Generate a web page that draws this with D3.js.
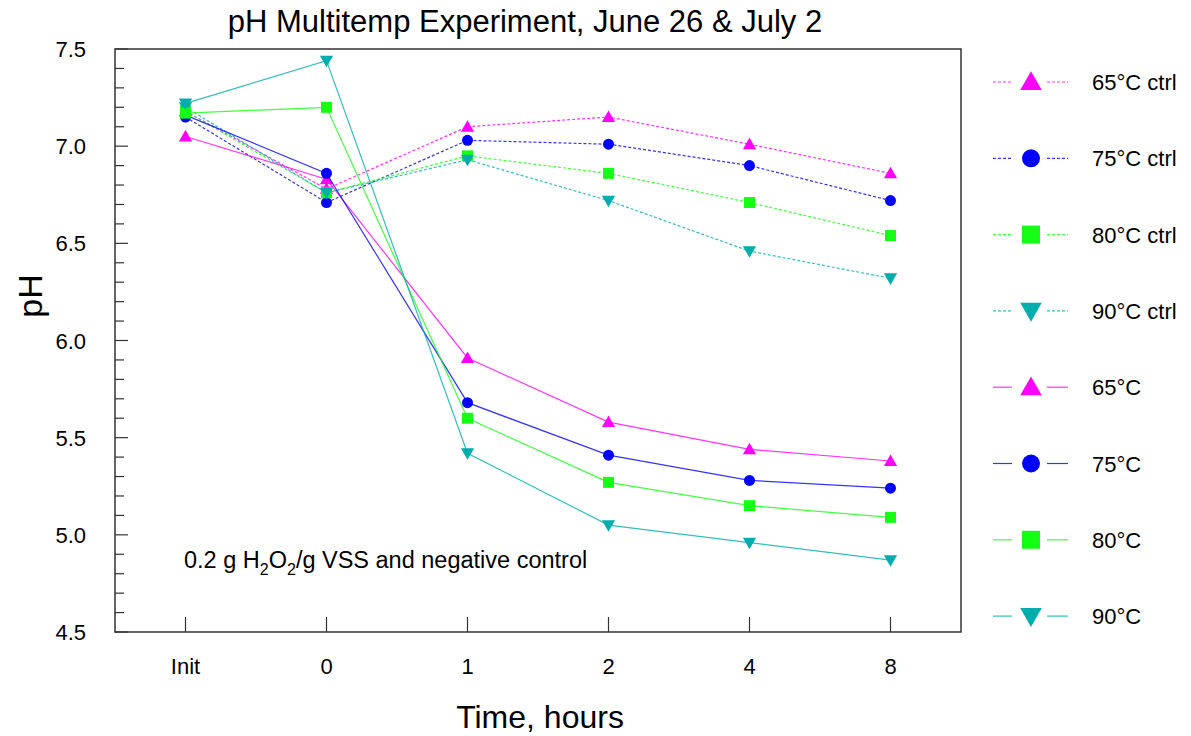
<!DOCTYPE html>
<html>
<head>
<meta charset="utf-8">
<script src="https://cdn.jsdelivr.net/npm/d3@7"></script>
<style>
  body { margin: 0; background: #fff; }
  text { font-family: "Liberation Sans", Arial, sans-serif; fill: #000; }
</style>
</head>
<body>
<svg id="chart" width="1191" height="736"></svg>
<script>
// x categories
var times = ["Init", "0", "1", "2", "4", "8"];

// pH readings
var ctrl65 = [7.18, 6.78, 7.10, 7.15, 7.01, 6.86];
var ctrl75 = [7.15, 6.71, 7.03, 7.01, 6.90, 6.72];
var ctrl80 = [7.18, 6.76, 6.95, 6.86, 6.71, 6.54];
var ctrl90 = [7.20, 6.76, 6.93, 6.72, 6.46, 6.32];
var t65 = [7.05, 6.83, 5.91, 5.58, 5.44, 5.38];
var t75 = [7.16, 6.86, 5.68, 5.41, 5.28, 5.24];
var t80 = [7.17, 7.20, 5.60, 5.27, 5.15, 5.09];
var t90 = [7.22, 7.44, 5.42, 5.05, 4.96, 4.87];

var yTicks = [4.5, 5.0, 5.5, 6.0, 6.5, 7.0, 7.5];

var series = [
    {name: "65\u00B0C ctrl", values: ctrl65, color: "#ff00ff", shape: "up", dashed: true},
    {name: "75\u00B0C ctrl", values: ctrl75, color: "#0000ff", shape: "circle", dashed: true},
    {name: "80\u00B0C ctrl", values: ctrl80, color: "#14ff14", shape: "square", dashed: true},
    {name: "90\u00B0C ctrl", values: ctrl90, color: "#00adad", shape: "down", dashed: true},
    {name: "65\u00B0C", values: t65, color: "#ff00ff", shape: "up", dashed: false},
    {name: "75\u00B0C", values: t75, color: "#0000ff", shape: "circle", dashed: false},
    {name: "80\u00B0C", values: t80, color: "#14ff14", shape: "square", dashed: false},
    {name: "90\u00B0C", values: t90, color: "#00adad", shape: "down", dashed: false}
];

var svg = d3.select("#chart");
var plotL = 115, plotR = 961, plotT = 49, plotB = 632;

var x = d3.scalePoint().domain(times).range([plotL, plotR]).padding(0.5);
var y = d3.scaleLinear().domain([4.5, 7.5]).range([plotB, plotT]);

function marker(sel, shape, size) {
    var s = size;
    if (shape === "circle") {
        sel.append("circle").attr("r", s * 0.5);
    } else if (shape === "square") {
        sel.append("rect").attr("x", -s / 2).attr("y", -s / 2).attr("width", s).attr("height", s);
    } else if (shape === "up") {
        sel.append("path").attr("d", "M0," + (-s * 0.6) + "L" + (s * 0.6) + "," + (s * 0.45) + "L" + (-s * 0.6) + "," + (s * 0.45) + "Z");
    } else {
        sel.append("path").attr("d", "M0," + (s * 0.6) + "L" + (s * 0.6) + "," + (-s * 0.45) + "L" + (-s * 0.6) + "," + (-s * 0.45) + "Z");
    }
}

// title
svg.append("text").attr("x", 525).attr("y", 32).attr("text-anchor", "middle")
    .style("font-size", "31px").text("pH Multitemp Experiment, June 26 & July 2");

// frame
svg.append("rect").attr("x", plotL).attr("y", plotT).attr("width", plotR - plotL).attr("height", plotB - plotT)
    .attr("fill", "none").attr("stroke", "#333").attr("stroke-width", 1.5);

// y ticks (inside), minor every 0.1
var minor = d3.range(45, 76).map(function (d) { return d / 10; });
svg.selectAll(".ytick").data(minor).enter().append("line")
    .attr("x1", plotL).attr("x2", function (d) { return Math.round(d * 10) % 5 === 0 ? plotL + 13 : plotL + 9; })
    .attr("y1", function (d) { return y(d); }).attr("y2", function (d) { return y(d); })
    .attr("stroke", "#333").attr("stroke-width", 1.2);

svg.selectAll(".ylab").data(yTicks).enter().append("text")
    .attr("x", 86).attr("y", function (d) { return y(d) + 8; })
    .attr("text-anchor", "end").style("font-size", "22px")
    .text(function (d) { return d.toFixed(1); });

// x ticks (inside)
svg.selectAll(".xtick").data(times).enter().append("line")
    .attr("x1", function (d) { return x(d); }).attr("x2", function (d) { return x(d); })
    .attr("y1", plotB).attr("y2", plotB - 15)
    .attr("stroke", "#333").attr("stroke-width", 1.2);

svg.selectAll(".xlab").data(times).enter().append("text")
    .attr("x", function (d) { return x(d); }).attr("y", 674)
    .attr("text-anchor", "middle").style("font-size", "22px")
    .text(function (d) { return d; });

// axis titles
svg.append("text").attr("x", 540).attr("y", 728).attr("text-anchor", "middle")
    .style("font-size", "32px").text("Time, hours");
svg.append("text").attr("transform", "translate(42,296) rotate(-90)").attr("text-anchor", "middle")
    .style("font-size", "34px").text("pH");

// annotation
var ann = svg.append("text").attr("x", 184).attr("y", 568).style("font-size", "23.5px");
ann.append("tspan").text("0.2 g H");
ann.append("tspan").attr("dy", 7).style("font-size", "16px").text("2");
ann.append("tspan").attr("dy", -7).text("O");
ann.append("tspan").attr("dy", 7).style("font-size", "16px").text("2");
ann.append("tspan").attr("dy", -7).text("/g VSS and negative control");

// lines
var line = d3.line().x(function (d, i) { return x(times[i]); }).y(function (d) { return y(d); });

var g = svg.selectAll(".series").data(series).enter().append("g");
g.append("path")
    .attr("d", function (d) { return line(d.values); })
    .attr("fill", "none").attr("stroke", function (d) { return d.color; })
    .attr("stroke-opacity", 0.8).attr("stroke-width", 1.2)
    .attr("stroke-dasharray", function (d) { return d.dashed ? "3,2" : null; });

g.each(function (s) {
    d3.select(this).selectAll(".pt").data(s.values).enter().append("g")
        .attr("transform", function (d, i) { return "translate(" + x(times[i]) + "," + y(d) + ")"; })
        .attr("fill", s.color)
        .each(function () { marker(d3.select(this), s.shape, 11); });
});

// legend
var leg = svg.selectAll(".leg").data(series).enter().append("g")
    .attr("transform", function (d, i) { return "translate(0," + (82 + i * 76.3) + ")"; });
leg.append("line").attr("x1", 993).attr("x2", 1012).attr("y1", 0).attr("y2", 0)
    .attr("stroke", function (d) { return d.color; }).attr("stroke-opacity", 0.8).attr("stroke-width", 1.2)
    .attr("stroke-dasharray", function (d) { return d.dashed ? "3,2" : null; });
leg.append("line").attr("x1", 1047).attr("x2", 1068).attr("y1", 0).attr("y2", 0)
    .attr("stroke", function (d) { return d.color; }).attr("stroke-opacity", 0.8).attr("stroke-width", 1.2)
    .attr("stroke-dasharray", function (d) { return d.dashed ? "3,2" : null; });
leg.each(function (s) {
    var m = d3.select(this).append("g").attr("transform", "translate(1031,0)").attr("fill", s.color);
    marker(m, s.shape, 18);
});
leg.append("text").attr("x", 1092).attr("y", 8).style("font-size", "22px")
    .text(function (d) { return d.name; });
</script>
</body>
</html>
